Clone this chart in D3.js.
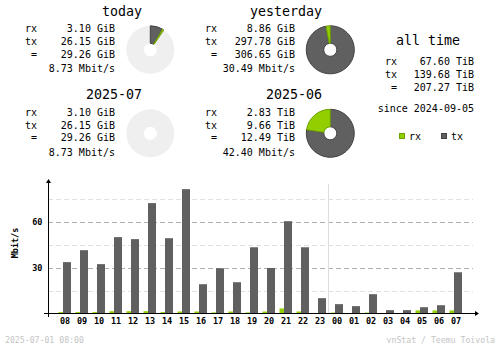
<!DOCTYPE html>
<html>
<head>
<meta charset="utf-8">
<script src="https://cdn.jsdelivr.net/npm/d3@7"></script>
<style>
  html, body { margin: 0; padding: 0; background: #fff; }
  svg { display: block; }
  text { font-family: "DejaVu Sans Mono", "Liberation Mono", monospace; fill: #000; }
</style>
</head>
<body>
<svg id="chart" width="500" height="348"></svg>
<script>
// Summary periods
const periods   = ["today", "yesterday", "2025-07", "2025-06"];
const rxLabels  = ["3.10 GiB", "8.86 GiB", "3.10 GiB", "2.83 TiB"];
const txLabels  = ["26.15 GiB", "297.78 GiB", "26.15 GiB", "9.66 TiB"];
const sumLabels = ["29.26 GiB", "306.65 GiB", "29.26 GiB", "12.49 TiB"];
const rateLabels = ["8.73 Mbit/s", "30.49 Mbit/s", "8.73 Mbit/s", "42.40 Mbit/s"];
// traffic in GiB for the donuts
const rxGiB = [3.10, 8.86, 3.10, 2.83 * 1024];
const txGiB = [26.15, 297.78, 26.15, 9.66 * 1024];

// All time
const allTimeLabels = ["rx", "tx", "="];
const allTimeValues = ["67.60 TiB", "139.68 TiB", "207.27 TiB"];
const sinceText = "since 2024-09-05";

// Hourly average rates, Mbit/s
const hours  = ["08","09","10","11","12","13","14","15","16","17","18","19",
                "20","21","22","23","00","01","02","03","04","05","06","07"];
const rxRate = [0.9, 0.9, 0.9, 1.5, 1.5, 1.5, 0.9, 1.3, 1.3, 0.7, 1.3, 0.7,
                1.3, 3.3, 1.3, 0.2, 0.6, 0.2, 0.6, 0.2, 0.2, 2.0, 2.0, 2.0];
const txRate = [33.5, 41.3, 32.2, 49.8, 48.5, 72.0, 49.1, 81.1, 19.1, 29.5, 20.4, 43.2,
                29.7, 60.2, 43.2, 10.0, 6.1, 4.8, 12.6, 2.2, 2.2, 4.1, 5.4, 26.9];
const yTicks = [30, 60];
const yMinor = [15, 45, 75];

const C_RX = "#92cf00", C_RX_D = "#6f9e00";
const C_TX = "#606060", C_TX_D = "#424242";
const C_EMPTY = "#efefef";

const svg = d3.select("#chart");

// ---- summary blocks ----
const blocks = [
  { i: 0, x: 0,   y: 0,    pair: [0, 1] },
  { i: 1, x: 180, y: 0,    pair: [0, 1] },
  { i: 2, x: 0,   y: 83.5, pair: [2, 3] },
  { i: 3, x: 180, y: 83.5, pair: [2, 3] }
];

const arc = d3.arc().innerRadius(6.5).outerRadius(24);

blocks.forEach(b => {
  const g = svg.append("g").attr("transform", `translate(${b.x},${b.y})`);
  g.append("text").attr("x", 142).attr("y", 15.7).attr("text-anchor", "end")
    .style("font-size", "13.3px").text(periods[b.i]);
  const rows = [["rx", rxLabels[b.i], 32.3], ["tx", txLabels[b.i], 45], ["=", sumLabels[b.i], 57.5]];
  rows.forEach(r => {
    g.append("text").attr("x", 37).attr("y", r[2]).attr("text-anchor", "end")
      .style("font-size", "10px").text(r[0]);
    g.append("text").attr("x", 115).attr("y", r[2]).attr("text-anchor", "end")
      .style("font-size", "10px").text(r[1]);
  });
  g.append("text").attr("x", 115).attr("y", 72.3).attr("text-anchor", "end")
    .style("font-size", "10px").text(rateLabels[b.i]);

  // donut: filled share relative to the larger period of the pair
  const maxTotal = d3.max(b.pair, k => rxGiB[k] + txGiB[k]);
  const ang = d3.scaleLinear().domain([0, maxTotal]).range([0, 2 * Math.PI]);
  const tx = txGiB[b.i], rx = rxGiB[b.i];
  const pg = g.append("g").attr("transform", "translate(150.3,49.8)");
  pg.append("path").attr("d", arc({ startAngle: 0, endAngle: 2 * Math.PI })).attr("fill", C_EMPTY);
  const txEnd = ang(tx), rxEnd = ang(tx + rx);
  if (txEnd > 0.02) {
    pg.append("path").attr("d", arc({ startAngle: 0, endAngle: txEnd }))
      .attr("fill", C_TX).attr("stroke", C_TX_D).attr("stroke-width", 1);
  }
  if (rxEnd - txEnd > 0.02) {
    pg.append("path").attr("d", arc({ startAngle: txEnd, endAngle: rxEnd }))
      .attr("fill", C_RX).attr("stroke", C_RX_D).attr("stroke-width", 1);
  }
});

// ---- all time ----
const at = svg.append("g");
at.append("text").attr("x", 428).attr("y", 44.5).attr("text-anchor", "middle")
  .style("font-size", "13.3px").text("all time");
const atY = [65, 77.5, 91];
allTimeLabels.forEach((l, k) => {
  at.append("text").attr("x", 397).attr("y", atY[k]).attr("text-anchor", "end")
    .style("font-size", "10px").text(l);
  at.append("text").attr("x", 474).attr("y", atY[k]).attr("text-anchor", "end")
    .style("font-size", "10px").text(allTimeValues[k]);
});
at.append("text").attr("x", 474).attr("y", 111.5).attr("text-anchor", "end")
  .style("font-size", "10px").text(sinceText);

// legend
const legend = [["rx", C_RX, C_RX_D, 399], ["tx", C_TX, C_TX_D, 441]];
legend.forEach(l => {
  at.append("rect").attr("x", l[3] + 0.5).attr("y", 133.5).attr("width", 5).attr("height", 5)
    .attr("fill", l[1]).attr("stroke", l[2]);
  at.append("text").attr("x", l[3] + 10).attr("y", 140).style("font-size", "10px").text(l[0]);
});

// ---- hourly chart ----
const x = d3.scaleBand().domain(hours).range([56, 56 + 24 * 17]);
const y = d3.scaleLinear().domain([0, 90]).range([313.5, 175.5]);
const ch = svg.append("g");

// grid
yMinor.forEach(v => {
  ch.append("line").attr("x1", 48).attr("x2", 473).attr("y1", Math.round(y(v)) + 0.5).attr("y2", Math.round(y(v)) + 0.5)
    .attr("stroke", "#e0e0e0").attr("stroke-dasharray", "5,3");
});
yTicks.forEach(v => {
  ch.append("line").attr("x1", 48).attr("x2", 473).attr("y1", Math.round(y(v)) + 0.5).attr("y2", Math.round(y(v)) + 0.5)
    .attr("stroke", "#b0b0b0").attr("stroke-dasharray", "5,3");
});
// day change marker
ch.append("line").attr("x1", x("00") + 0.5).attr("x2", x("00") + 0.5).attr("y1", 184).attr("y2", 313)
  .attr("stroke", "#dcdcdc");

// bars
ch.selectAll("rect.rx").data(hours).join("rect").attr("class", "rx")
  .attr("x", d => x(d) + 2.5).attr("width", 4.5)
  .attr("y", (d, i) => y(rxRate[i])).attr("height", (d, i) => y(0) - y(rxRate[i]))
  .attr("fill", C_RX);
ch.selectAll("rect.tx").data(hours).join("rect").attr("class", "tx")
  .attr("x", d => x(d) + 7).attr("width", 8)
  .attr("y", (d, i) => y(txRate[i])).attr("height", (d, i) => y(0) - y(txRate[i]))
  .attr("fill", C_TX);

// axes
ch.append("line").attr("x1", 48.5).attr("x2", 48.5).attr("y1", 181).attr("y2", 317).attr("stroke", "#000");
ch.append("line").attr("x1", 44).attr("x2", 477).attr("y1", 313.5).attr("y2", 313.5).attr("stroke", "#000");
ch.append("path").attr("d", "M48.5,179 L46,183 L51,183 Z").attr("fill", "#000");
ch.append("path").attr("d", "M479,313.5 L475,311 L475,316 Z").attr("fill", "#000");

// tick labels
yTicks.forEach(v => {
  ch.append("text").attr("x", 42.5).attr("y", y(v) + 3).attr("text-anchor", "end")
    .style("font-size", "8.5px").style("font-weight", "bold").text(v);
});
ch.selectAll("text.hx").data(hours).join("text").attr("class", "hx")
  .attr("x", d => x(d) + x.bandwidth() / 2 + 0.5).attr("y", 324.3).attr("text-anchor", "middle")
  .style("font-size", "8.5px").style("font-weight", "bold").text(d => d);
ch.append("text").attr("transform", "translate(17.5,243) rotate(-90)").attr("text-anchor", "middle")
  .style("font-size", "8.5px").style("font-weight", "bold").text("Mbit/s");

// footer
svg.append("text").attr("x", 5).attr("y", 342.5).style("font-size", "8.2px").style("fill", "#c4c4c4")
  .text("2025-07-01 08:00");
svg.append("text").attr("x", 495).attr("y", 342.5).attr("text-anchor", "end")
  .style("font-size", "8.2px").style("fill", "#c4c4c4").text("vnStat / Teemu Toivola");
</script>
</body>
</html>
